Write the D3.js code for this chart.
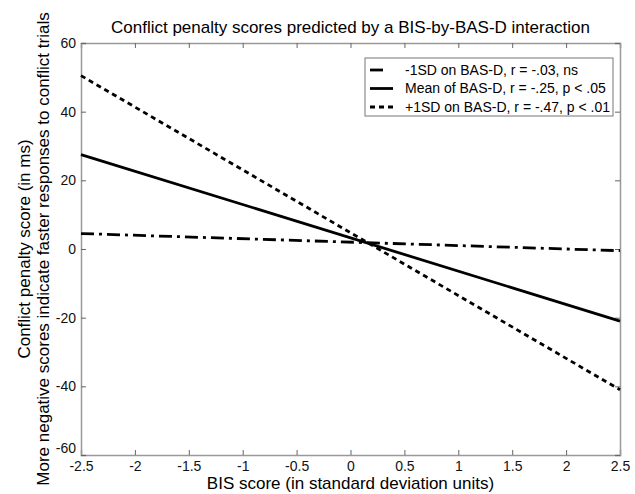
<!DOCTYPE html>
<html>
  <body style="margin:0;background:#fff">
    <script src="https://d3js.org/d3.v7.min.js"></script>
    <script type="text/javascript">
      const width = 635;
      const height = 494;
      const margin = { top: 43, right: 15, bottom: 39, left: 81 };

      // BIS score endpoints of each fitted line
      const bisScores = [-2.5, 2.5];
      const seriesNames = [
        '-1SD on BAS-D, r = -.03, ns',
        'Mean of BAS-D, r = -.25, p < .05',
        '+1SD on BAS-D, r = -.47, p < .01',
      ];
      const lowBas = [4.5, -0.5];
      const meanBas = [27.5, -21];
      const highBas = [50.5, -41];
      const xTicks = [-2.5, -2, -1.5, -1, -0.5, 0, 0.5, 1, 1.5, 2, 2.5];
      const yTicks = [-60, -40, -20, 0, 20, 40, 60];

      const dashes = ['13,5,3,5', null, '5,4'];
      const series = [lowBas, meanBas, highBas];

      const svg = d3.select('body')
        .append('svg')
        .attr('width', width)
        .attr('height', height)
        .style('font-family', 'Liberation Sans, Arial, sans-serif');

      const x = d3.scaleLinear()
        .domain([-2.5, 2.5])
        .range([margin.left, width - margin.right]);
      const y = d3.scaleLinear()
        .domain([-60, 60])
        .range([height - margin.bottom, margin.top]);

      const fmt = (d) => String(d);

      // axes, matlab style (inward ticks on all sides)
      const tickLen = 5;
      svg.append('g')
        .attr('transform', `translate(0,${y(-60)})`)
        .call(d3.axisBottom(x).tickValues(xTicks).tickSize(-tickLen).tickPadding(6).tickFormat(fmt));
      svg.append('g')
        .attr('transform', `translate(0,${y(60)})`)
        .call(d3.axisTop(x).tickValues(xTicks).tickSize(-tickLen).tickFormat(''));
      const yAxis = svg.append('g')
        .attr('transform', `translate(${x(-2.5)},0)`)
        .call(d3.axisLeft(y).tickValues(yTicks).tickSize(-tickLen).tickPadding(5).tickFormat(fmt));
      svg.append('g')
        .attr('transform', `translate(${x(2.5)},0)`)
        .call(d3.axisRight(y).tickValues(yTicks).tickSize(-tickLen).tickFormat(''));

      // lowest y label sits a bit higher, as matlab does
      yAxis.selectAll('.tick text')
        .filter((d) => d === -60)
        .attr('dy', '-0.2em');

      svg.selectAll('.domain').attr('stroke', '#999').attr('stroke-width', 1.5);
      svg.selectAll('.tick line').attr('stroke', '#666');
      svg.selectAll('.tick text')
        .attr('fill', '#111')
        .style('font-size', '14px')
        .style('font-family', 'Liberation Sans, Arial, sans-serif');

      const line = d3.line()
        .x((d, i) => x(bisScores[i]))
        .y((d) => y(d));

      svg.selectAll('.series')
        .data(series)
        .enter()
        .append('path')
        .attr('class', 'series')
        .attr('d', line)
        .attr('fill', 'none')
        .attr('stroke', '#000')
        .attr('stroke-width', 2.8)
        .attr('stroke-dasharray', (d, i) => dashes[i]);

      // legend
      const legend = svg.append('g');
      legend.append('rect')
        .attr('x', 365)
        .attr('y', 58)
        .attr('width', 248)
        .attr('height', 58)
        .attr('fill', '#fff')
        .attr('stroke', '#777')
        .attr('stroke-width', 1);
      const rows = legend.selectAll('.row')
        .data(seriesNames)
        .enter()
        .append('g')
        .attr('transform', (d, i) => `translate(0,${70 + i * 18.5})`);
      rows.append('line')
        .attr('x1', 370)
        .attr('x2', (d, i) => i === 0 ? 386 : 393)
        .attr('stroke', '#000')
        .attr('stroke-width', 2.8)
        .attr('stroke-dasharray', (d, i) => dashes[i]);
      rows.append('text')
        .attr('x', 405)
        .attr('dy', '0.35em')
        .style('font-size', '14px')
        .text((d) => d);

      // titles
      svg.append('text')
        .attr('x', x(0))
        .attr('y', 33)
        .attr('text-anchor', 'middle')
        .style('font-size', '17px')
        .text('Conflict penalty scores predicted by a BIS-by-BAS-D interaction');

      svg.append('text')
        .attr('x', x(0))
        .attr('y', 489)
        .attr('text-anchor', 'middle')
        .style('font-size', '17px')
        .text('BIS score (in standard deviation units)');

      const yLabel = svg.append('text')
        .attr('transform', `translate(0,${y(0)}) rotate(-90)`)
        .attr('text-anchor', 'middle')
        .style('font-size', '17px');
      yLabel.append('tspan').attr('x', 0).attr('y', 30).text('Conflict penalty score (in ms)');
      yLabel.append('tspan').attr('x', 0).attr('y', 49).text('More negative scores indicate faster responses to conflict trials');
    </script>
  </body>
</html>
